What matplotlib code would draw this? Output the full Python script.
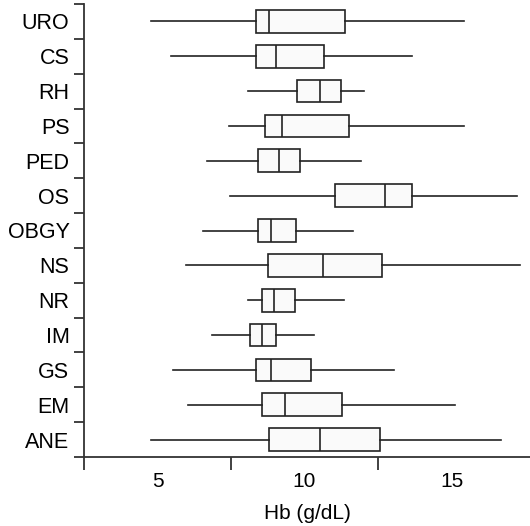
import matplotlib
matplotlib.use("Agg")
import matplotlib.pyplot as plt
from matplotlib.ticker import FixedLocator, NullFormatter, FixedFormatter

plt.rcParams['font.family'] = ['Liberation Sans', 'DejaVu Sans']

categories = ["ANE", "EM", "GS", "IM", "NR", "NS", "OBGY", "OS", "PED", "PS", "RH", "CS", "URO"]
whisker_low = [4.79, 6.05, 5.54, 6.84, 8.07, 5.97, 6.55, 7.47, 6.67, 7.44, 8.07, 5.46, 4.78]
q1 =          [8.80, 8.56, 8.34, 8.15, 8.54, 8.77, 8.42, 11.05, 8.42, 8.66, 9.74, 8.35, 8.35]
median =      [10.54, 9.34, 8.87, 8.56, 8.95, 10.64, 8.87, 12.75, 9.14, 9.24, 10.54, 9.04, 8.78]
q3 =          [12.56, 11.29, 10.23, 9.04, 9.69, 12.64, 9.72, 13.64, 9.84, 11.51, 11.25, 10.68, 11.37]
whisker_high = [16.67, 15.13, 13.04, 10.32, 11.33, 17.33, 11.65, 17.22, 11.92, 15.41, 12.04, 13.66, 15.43]

x_labels = ["5", "10", "15"]
x_label_pos = [5, 10, 15]
x_tick_pos = [2.5, 7.5, 12.5]

fig = plt.figure(figsize=(5.30, 5.26), dpi=100)
ax = fig.add_axes([84 / 530, 1 - 457 / 526, 1 - 84 / 530, (457 - 4) / 526])

stats = []
for i, c in enumerate(categories):
    stats.append(dict(label=c, whislo=whisker_low[i], q1=q1[i], med=median[i],
                      q3=q3[i], whishi=whisker_high[i], fliers=[]))

lc = "#222222"
ax.bxp(stats, positions=range(len(categories)), vert=False, widths=0.65,
       showcaps=False, showfliers=False, patch_artist=True,
       boxprops=dict(facecolor="#fafafa", edgecolor=lc, linewidth=1.2),
       medianprops=dict(color=lc, linewidth=1.2),
       whiskerprops=dict(color=lc, linewidth=1.2))

ax.set_ylim(-0.5, len(categories) - 0.5)
ax.set_xlim(2.5, 17.67)

# y ticks at category boundaries, labels at centres
ax.yaxis.set_major_locator(FixedLocator([i - 0.5 for i in range(len(categories) + 1)]))
ax.yaxis.set_major_formatter(NullFormatter())
ax.yaxis.set_minor_locator(FixedLocator(list(range(len(categories)))))
ax.yaxis.set_minor_formatter(FixedFormatter(categories))
ax.tick_params(axis='y', which='major', length=7, width=1.3, color="#333333")
ax.tick_params(axis='y', which='minor', length=0, pad=10.5, labelsize=15.5)

# x ticks at half-steps, labels in between
ax.xaxis.set_major_locator(FixedLocator(x_tick_pos))
ax.xaxis.set_major_formatter(NullFormatter())
ax.xaxis.set_minor_locator(FixedLocator(x_label_pos))
ax.xaxis.set_minor_formatter(FixedFormatter(x_labels))
ax.tick_params(axis='x', which='major', length=9, width=1.3, color="#333333")
ax.tick_params(axis='x', which='minor', length=0, pad=11, labelsize=15)

for s in ["top", "right"]:
    ax.spines[s].set_visible(False)
for s in ["left", "bottom"]:
    ax.spines[s].set_linewidth(1.3)
    ax.spines[s].set_color("#333333")

ax.set_xlabel("Hb (g/dL)", fontsize=15, labelpad=9)

fig.savefig("out.png", dpi=100)
